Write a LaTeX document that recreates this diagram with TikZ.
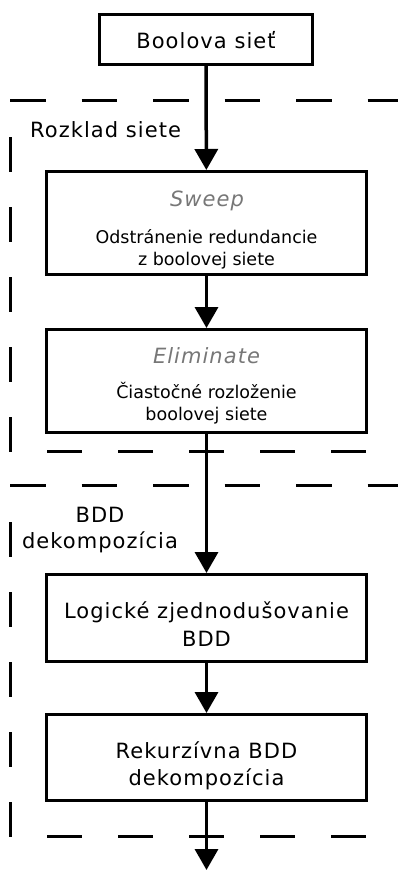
\documentclass[tikz,border=0pt]{standalone}
\usepackage{fontspec}
\setmainfont{DejaVu Sans}
\newfontfamily\lblfont[LetterSpace=5]{DejaVu Sans}
\usetikzlibrary{arrows.meta}
\definecolor{titlegray}{HTML}{777777}

\begin{document}
\begin{tikzpicture}[x=1pt,y=-1pt,
  box/.style={draw, rectangle, line width=3pt, inner sep=0pt},
  flow/.style={-{Triangle[width=23pt,length=21pt]}, line width=3.5pt},
  grp/.style={line width=3pt},
  big/.style={font=\lblfont\fontsize{21}{26}\selectfont, anchor=base, inner sep=0pt},
  small/.style={font=\fontsize{17.5}{22}\selectfont, anchor=base, inner sep=0pt},
  title/.style={font=\lblfont\itshape\fontsize{21}{26}\selectfont, text=titlegray, anchor=base, inner sep=0pt}]
\useasboundingbox (0,0) rectangle (398,870);

% process boxes
\node[box, minimum width=213pt, minimum height=50pt] (net) at (206,39.5) {};
\node[box, minimum width=320pt, minimum height=103pt] (sweep) at (206.5,223) {};
\node[box, minimum width=320pt, minimum height=103pt] (elim) at (206.5,381) {};
\node[box, minimum width=320pt, minimum height=87pt] (simp) at (206.5,618) {};
\node[box, minimum width=320pt, minimum height=86pt] (rec) at (206.5,757.5) {};
\coordinate (out) at (206.5,870);

% box texts
\node[big] (netT) at (206,48) {Boolova sieť};
\node[title] (sweepA) at (207,206) {Sweep};
\node[small] (sweepB) at (206.5,243) {Odstránenie redundancie};
\node[small] (sweepC) at (206.5,265) {z boolovej siete};
\node[title] (elimA) at (206.5,363) {Eliminate};
\node[small] (elimB) at (206.5,398) {Čiastočné rozloženie};
\node[small] (elimC) at (206.5,420) {boolovej siete};
\node[big] (simpA) at (206.5,618) {Logické zjednodušovanie};
\node[big] (simpB) at (206.5,646) {BDD};
\node[big] (recA) at (206.5,758) {Rekurzívna BDD};
\node[big] (recB) at (206.5,785) {dekompozícia};

% group captions
\node[big, anchor=base west] (grp1T) at (30,137) {Rozklad siete};
\node[big] (grp2A) at (100,522) {BDD};
\node[big] (grp2B) at (100,548) {dekompozícia};

% dashed group frames
\draw[grp, dash pattern=on 35.5pt off 36pt] (10,100) -- (400,100);
\draw[grp, dash pattern=on 35pt off 35pt] (10,137) -- (10,452);
\draw[grp, dash pattern=on 35pt off 36pt] (47,451) -- (368,451);
\draw[grp, dash pattern=on 35.5pt off 36pt] (10,485) -- (400,485);
\draw[grp, dash pattern=on 35pt off 35pt] (10,522) -- (10,837);
\draw[grp, dash pattern=on 35pt off 36pt] (47,836) -- (368,836);

% flow
\draw[flow] (net) -- (sweep);
\draw[flow] (sweep) -- (elim);
\draw[flow] (elim) -- (simp);
\draw[flow] (simp) -- (rec);
\draw[flow] (rec) -- (out);
\end{tikzpicture}
\end{document}
